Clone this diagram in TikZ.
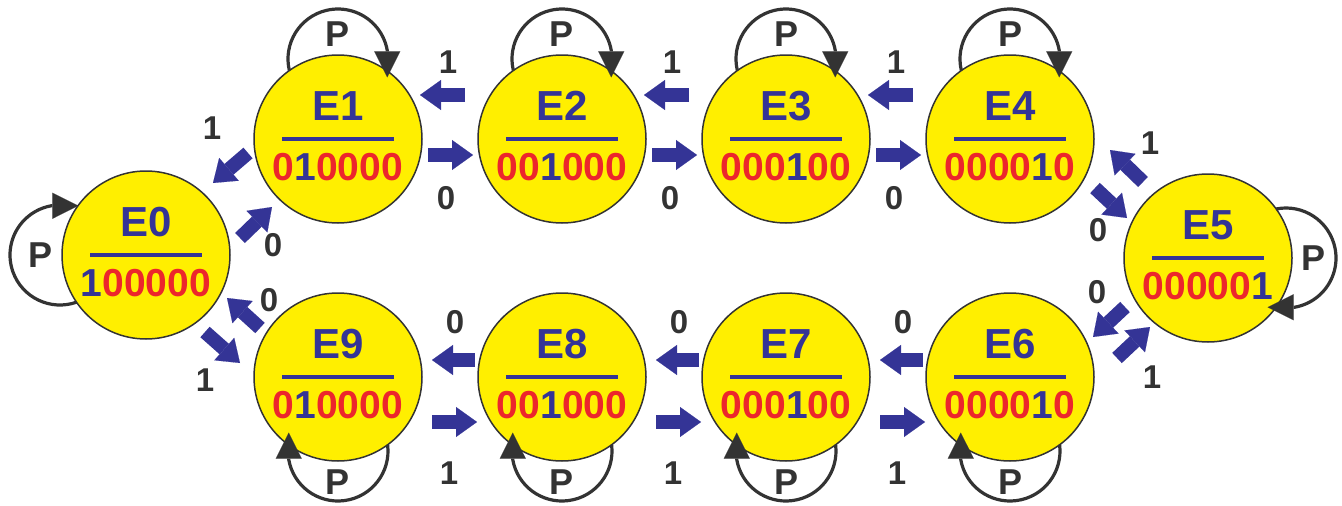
\documentclass[tikz,border=0pt]{standalone}
\usepackage{fontspec}
\setmainfont{Liberation Sans}
\usetikzlibrary{arrows.meta,calc}
\definecolor{stateyellow}{RGB}{255,239,0}
\definecolor{stateblue}{RGB}{52,52,150}
\definecolor{statered}{RGB}{236,38,44}
\definecolor{ink}{RGB}{51,51,51}

% the active bit of a state code
\newcommand{\hotbit}[1]{\textcolor{stateblue}{#1}}

% self loop: node, outward direction, distance of the loop centre from the node centre;
% the arc ends in a short straight run that carries the arrow tip back into the node
\newcommand{\selfloop}[3]{%
  \pgfmathsetmacro\loopangle{acos((4556-#3*#3)/(100*#3))}%
  \draw[loopline] ($(#1)+(#2:#3)+(#2+\loopangle:50)$)
    arc[start angle=#2+\loopangle, end angle=#2-80, radius=50pt]
    -- ++(#2+180:27);
  \node[plbl] (#1p) at ($(#1)+(#2:105)$) {P};
}

\begin{document}
\begin{tikzpicture}[x=1pt,y=1pt,
  state/.style={circle,draw=ink,line width=1.5pt,fill=stateyellow,minimum size=168pt,inner sep=0pt},
  title/.style={anchor=base,inner sep=0pt,text=stateblue,font=\bfseries\fontsize{42}{42}\selectfont},
  code/.style={anchor=base,inner sep=0pt,text=statered,font=\bfseries\fontsize{39}{39}\selectfont},
  bar/.style={stateblue,line width=4pt},
  trans/.style={stateblue,line width=14pt,-{Triangle[width=30pt,length=21pt,line width=0.1pt]}},
  loopline/.style={ink,line width=3.2pt,-{Triangle[width=26pt,length=26pt,line width=0.1pt]}},
  lbl/.style={text=ink,font=\bfseries\fontsize{33}{33}\selectfont,inner sep=0pt},
  plbl/.style={lbl,font=\bfseries\fontsize{36}{36}\selectfont},
]
\useasboundingbox (0,0) rectangle (1342,-506);

% states
\foreach \n/\x/\y/\c in {
  E0/146/255/{\hotbit{1}00000},
  E1/338/139/{0\hotbit{1}0000},
  E2/562/139/{00\hotbit{1}000},
  E3/786/139/{000\hotbit{1}00},
  E4/1010/139/{0000\hotbit{1}0},
  E5/1208/258/{00000\hotbit{1}},
  E6/1010/377/{0000\hotbit{1}0},
  E7/786/377/{000\hotbit{1}00},
  E8/562/377/{00\hotbit{1}000},
  E9/338/377/{0\hotbit{1}0000}} {
  \node[state] (\n) at (\x,-\y) {};
  \node[title] (\n t) at ($(\n)+(0,19)$) {\n};
  \draw[bar] ($(\n)+(-56,0)$) -- ($(\n)+(56,0)$);
  \node[code] (\n c) at ($(\n)+(0,-41)$) {\c};
}

% self loops
\selfloop{E0}{180}{86}
\selfloop{E1}{90}{80}
\selfloop{E2}{90}{80}
\selfloop{E3}{90}{80}
\selfloop{E4}{90}{80}
\selfloop{E5}{0}{78}
\selfloop{E6}{-90}{74}
\selfloop{E7}{-90}{74}
\selfloop{E8}{-90}{74}
\selfloop{E9}{-90}{74}

% upper chain
\foreach \a/\b in {E1/E2,E2/E3,E3/E4} {
  \draw[trans,shorten <=90pt,shorten >=89pt] ([yshift=-16pt]\a.center) -- ([yshift=-16pt]\b.center);
  \draw[trans,shorten <=97pt,shorten >=82pt] ([yshift=44pt]\b.center) -- ([yshift=44pt]\a.center);
  \node[lbl] (\a\b one) at ($(\a)+(110,77)$) {1};
  \node[lbl] (\a\b zero) at ($(\a)+(108,-59)$) {0};
}

% lower chain
\foreach \a/\b in {E9/E8,E8/E7,E7/E6} {
  \draw[trans,shorten <=94pt,shorten >=85pt] ([yshift=-45pt]\a.center) -- ([yshift=-45pt]\b.center);
  \draw[trans,shorten <=87pt,shorten >=94pt] ([yshift=17pt]\b.center) -- ([yshift=17pt]\a.center);
  \node[lbl] (\a\b zero) at ($(\a)+(117,55)$) {0};
  \node[lbl] (\a\b one) at ($(\a)+(111,-96)$) {1};
}

% left end
\draw[trans] ($(E1)+(-90,-14)$) -- ($(E0)+(67,72)$);
\draw[trans] ($(E0)+(94,17)$) -- ($(E1)+(-66,-68)$);
\draw[trans] ($(E9)+(-78,49)$) -- ($(E0)+(81,-43)$);
\draw[trans] ($(E0)+(59,-77)$) -- ($(E9)+(-98,14)$);
\node[lbl] (l10) at (212,-128) {1};
\node[lbl] (l01) at (273,-245) {0};
\node[lbl] (l90) at (269,-300) {0};
\node[lbl] (l09) at (205,-380) {1};

% right end
\draw[trans] ($(E5)+(-65,76)$) -- ($(E4)+(100,-11)$);
\draw[trans] ($(E4)+(85,-49)$) -- ($(E5)+(-81,40)$);
\draw[trans] ($(E5)+(-83,-49)$) -- ($(E6)+(83,40)$);
\draw[trans] ($(E6)+(107,19)$) -- ($(E5)+(-58,-69)$);
\node[lbl] (l54) at (1150,-143) {1};
\node[lbl] (l45) at (1098,-230) {0};
\node[lbl] (l56) at (1097,-292) {0};
\node[lbl] (l65) at (1152,-377) {1};
\end{tikzpicture}
\end{document}
